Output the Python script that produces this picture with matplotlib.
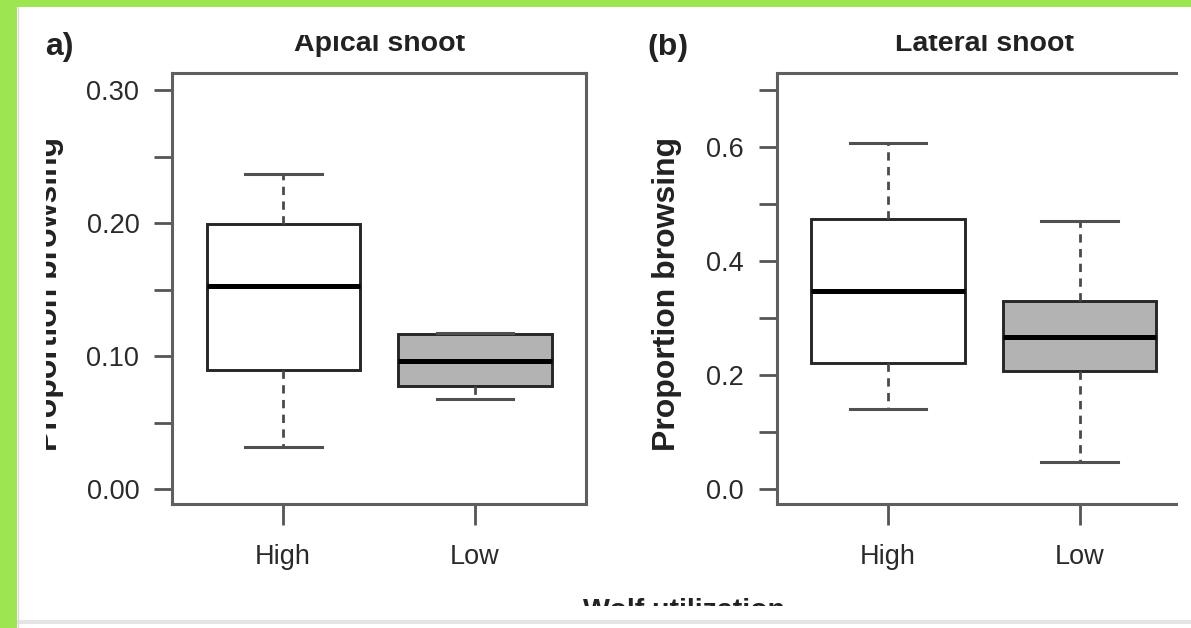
import matplotlib
matplotlib.use("Agg")
import matplotlib.pyplot as plt
from matplotlib.patches import Rectangle
from matplotlib.lines import Line2D
from matplotlib.transforms import Bbox, TransformedBbox

# ---------------- data ----------------
groups = ["High", "Low"]

# a) Apical shoot
apical_whislo = [0.032, 0.068]
apical_q1 = [0.0896, 0.0776]
apical_med = [0.153, 0.0966]
apical_q3 = [0.199, 0.1165]
apical_whishi = [0.2367, 0.1177]

# (b) Lateral shoot
lateral_whislo = [0.1406, 0.0484]
lateral_q1 = [0.222, 0.2077]
lateral_med = [0.347, 0.266]
lateral_q3 = [0.473, 0.330]
lateral_whishi = [0.607, 0.469]

apical_ticks = [0.0, 0.1, 0.2, 0.3]
apical_ticklabels = ["0.00", "0.10", "0.20", "0.30"]
apical_minor = [0.05, 0.15, 0.25]
lateral_ticks = [0.0, 0.2, 0.4, 0.6]
lateral_ticklabels = ["0.0", "0.2", "0.4", "0.6"]
lateral_minor = [0.1, 0.3, 0.5, 0.7]

box_fills = ["white", "#b3b3b3"]

# ---------------- figure ----------------
W, H = 1191, 628
DPI = 100
plt.rcParams['font.family'] = ['Liberation Sans', 'DejaVu Sans']

fig = plt.figure(figsize=(W / DPI, H / DPI), dpi=DPI, facecolor="white")


def fx(x):
    return x / W


def fy(y):
    return 1 - y / H


ax1 = fig.add_axes([fx(172), fy(504), 414 / W, 431 / H])
ax2 = fig.add_axes([fx(776.7), fy(504), 414 / W, 431 / H])

spine_col = "#5f5f5f"
tick_col = "#555555"
label_col = "#2a2a2a"


def draw_panel(ax, whislo, q1, med, q3, whishi, ylim, ticks, ticklabels, minor):
    stats = []
    for i, g in enumerate(groups):
        stats.append(dict(med=med[i], q1=q1[i], q3=q3[i],
                          whislo=whislo[i], whishi=whishi[i], label=g))
    res = ax.bxp(stats, positions=[1, 2], widths=0.8, capwidths=0.4,
                 patch_artist=True, showfliers=False,
                 boxprops=dict(edgecolor="#262626", linewidth=2.1),
                 medianprops=dict(color="black", linewidth=3.6, solid_capstyle="butt"),
                 whiskerprops=dict(color="#4a4a4a", linewidth=2.0,
                                   linestyle=(0, (3.0, 2.3))),
                 capprops=dict(color="#505050", linewidth=2.2))
    for patch, fc in zip(res["boxes"], box_fills):
        patch.set_facecolor(fc)
    ax.set_xlim(0.42, 2.58)
    ax.set_ylim(*ylim)
    ax.set_yticks(ticks)
    ax.set_yticklabels(ticklabels)
    ax.set_yticks(minor, minor=True)
    ax.tick_params(axis="y", which="both", length=13, width=2.0, color=tick_col,
                   pad=10.5, labelsize=19.5, labelcolor=label_col)
    ax.tick_params(axis="x", which="both", length=15, width=2.0, color=tick_col,
                   pad=13.5, labelsize=19.5, labelcolor=label_col)
    for s in ax.spines.values():
        s.set_color(spine_col)
        s.set_linewidth(2.2)
    ax.set_facecolor("white")


draw_panel(ax1, apical_whislo, apical_q1, apical_med, apical_q3, apical_whishi,
           (-0.011, 0.3128), apical_ticks, apical_ticklabels, apical_minor)
draw_panel(ax2, lateral_whislo, lateral_q1, lateral_med, lateral_q3, lateral_whishi,
           (-0.0257, 0.729), lateral_ticks, lateral_ticklabels, lateral_minor)


def clip_fig(t, x0, y0, x1, y1):
    """clip a figure text to a rectangle given in image pixels (y from top)"""
    bb = Bbox.from_extents(fx(x0), fy(y1), fx(x1), fy(y0))
    t.set_clip_box(TransformedBbox(bb, fig.transFigure))
    t.set_clip_on(True)


# titles (top of the lettering is cropped in the reference)
t1 = fig.text(fx(380), fy(51), "Apical shoot", ha="center", va="baseline",
              fontsize=20.5, fontweight="bold", color="#222222")
clip_fig(t1, 0, 35, W, H)
t2 = fig.text(fx(985), fy(51), "Lateral shoot", ha="center", va="baseline",
              fontsize=20.5, fontweight="bold", color="#222222")
clip_fig(t2, 0, 35, W, H)

# panel letters
ta = fig.text(fx(45), fy(55), "a)", ha="left", va="baseline", fontsize=23,
              fontweight="bold", color="#222222")
clip_fig(ta, 0, 32, W, H)
tb = fig.text(fx(647), fy(55), "(b)", ha="left", va="baseline", fontsize=23,
              fontweight="bold", color="#222222")
clip_fig(tb, 0, 34, W, H)

# y labels
fig.text(fx(666.5), fy(293.5), "Proportion browsing", rotation=90,
         ha="center", va="center", fontsize=23, fontweight="bold", color="#222222")
tl = fig.text(fx(49), fy(293.5), "Proportion browsing", rotation=90,
              ha="center", va="center", fontsize=23, fontweight="bold", color="#222222")
clip_fig(tl, 46, 0, W, H)

# shared x label (cropped at the bottom)
tx = fig.text(fx(684), fy(618), "Wolf utilization", ha="center", va="baseline",
              fontsize=20.5, fontweight="bold", color="#222222")
clip_fig(tx, 0, 0, W, 606)

# screenshot framing: cropped right edge, green border, grey bottom strip
fig.add_artist(Rectangle((fx(1178), 0), (W - 1178) / W, 1, transform=fig.transFigure,
                         facecolor="white", edgecolor="none", zorder=5))
fig.add_artist(Rectangle((0, fy(624)), 1, 4 / H, transform=fig.transFigure,
                         facecolor="#e4e4e4", edgecolor="none", zorder=6))
fig.add_artist(Rectangle((0, fy(7)), 1, 7 / H, transform=fig.transFigure,
                         facecolor="#9ee552", edgecolor="none", zorder=7))
fig.add_artist(Rectangle((0, 0), 17 / W, 1, transform=fig.transFigure,
                         facecolor="#9ee552", edgecolor="none", zorder=7))
fig.add_artist(Line2D([fx(18), fx(18)], [0, fy(7)], transform=fig.transFigure,
                      color="#dcdcdc", linewidth=1.0, zorder=6))

fig.savefig("out.png", dpi=DPI, facecolor="white")
